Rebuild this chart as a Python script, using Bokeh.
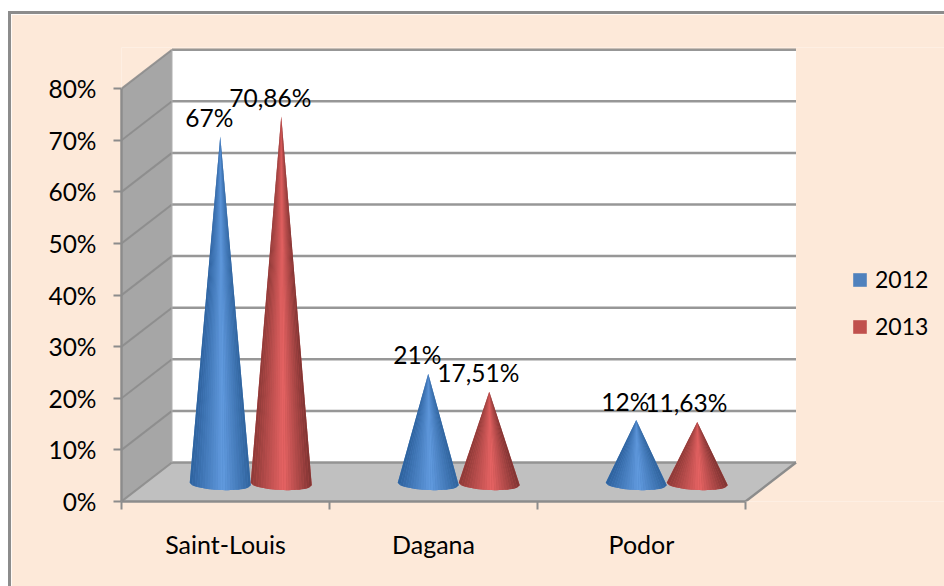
from bokeh.plotting import figure
from bokeh.embed import file_html
from bokeh.resources import INLINE
from bokeh.models import (FixedTicker, Legend, LegendItem, LinearAxis, Range1d)
from bokeh.core.properties import value

categories = ["Saint-Louis", "Dagana", "Podor"]
values_2012 = [67, 21, 12]
values_2013 = [70.86, 17.51, 11.63]
labels_2012 = ["67%", "21%", "12%"]
labels_2013 = ["70,86%", "17,51%", "11,63%"]
y_ticks = [0, 10, 20, 30, 40, 50, 60, 70, 80]
y_tick_labels = ["0%", "10%", "20%", "30%", "40%", "50%", "60%", "70%", "80%"]
series_names = ["2012", "2013"]

FONT = "Lato"
FS = "24.5px"
PEACH = "#fde9d9"
GRAY = "#8c8c8c"
PX_X = 208.0    # px per category
PX_Y = 5.16     # px per percent
DX = 50.5 / PX_X   # depth of the 3D box
DY = 39.0 / PX_Y
HW = 30.5 / PX_X   # cone half width

p = figure(width=933, height=572, output_backend="svg", toolbar_location=None,
           x_range=Range1d(0, 823 / PX_X), y_range=Range1d(0, 454 / PX_Y),
           min_border_left=110, min_border_right=0, min_border_top=33, min_border_bottom=85,
           background_fill_color=PEACH, border_fill_color=PEACH, outline_line_color=None,
           margin=(14, 0, 0, 11))
p.styles = {"outline": "3px solid " + GRAY}
p.xaxis.visible = False
p.yaxis.visible = False
p.grid.visible = False
p.renderers = []
p.below = []
p.left = []

ymax = y_ticks[-1]
xmax = len(categories)
# side wall, back wall, floor
p.patch([0, DX, DX, 0], [0, DY, ymax + DY, ymax], fill_color="#a6a6a6", line_color=None)
p.patch([DX, xmax + DX, xmax + DX, DX], [DY, DY, ymax + DY, ymax + DY], fill_color="white", line_color=None)
p.patch([0, DX, xmax + DX, xmax], [0, DY, DY, 0], fill_color="#c0c0c0", line_color=None)
# gridlines
p.multi_line([[DX, xmax + DX] for _ in y_ticks], [[t + DY, t + DY] for t in y_ticks],
             line_color=GRAY, line_width=2.5, line_alpha=0.9)
p.multi_line([[0, DX] for _ in y_ticks], [[t, t + DY] for t in y_ticks],
             line_color=GRAY, line_width=2, line_alpha=0.9)
p.line([xmax, xmax + DX], [0, DY], line_color=GRAY, line_width=2.5)
p.line([DX, DX], [DY, ymax + DY], line_color="#b0b0b0", line_width=1)

def mix(a, b, f):
    return "#%02x%02x%02x" % tuple(round(a[i] + (b[i] - a[i]) * f) for i in range(3))

def shade(t, edge_l, mid, edge_r):
    # t in -1..1, highlight a little right of the centre
    c = 0.08
    if t < c:
        f = (t + 1) / (c + 1)
        return mix(edge_l, mid, f ** 1.1)
    f = (1 - t) / (1 - c)
    return mix(edge_r, mid, f ** 1.1)

BLUE = ((0x2e, 0x62, 0x9e), (0x62, 0x9b, 0xe0), (0x30, 0x64, 0x9e))
RED = ((0x8e, 0x3a, 0x38), (0xe8, 0x64, 0x64), (0x80, 0x34, 0x32))

def cone(cx, v, pal):
    top = v + DY / 2
    side = 17.5 / PX_Y
    drop = 6.0 / PX_Y
    n = 24
    xs, ys, cs = [], [], []
    for i in range(n):
        t0 = -1 + 2 * i / n
        t1 = -1 + 2 * (i + 1) / n
        b0 = side - drop * (1 - t0 * t0) ** 0.5 + 0.25 * -t0
        b1 = side - drop * (1 - t1 * t1) ** 0.5 + 0.25 * -t1
        xs.append([cx, cx + HW * t0, cx + HW * t1])
        ys.append([top, b0, b1])
        cs.append(shade((t0 + t1) / 2, *pal))
    # solid underlay hides the seams between the shaded slices
    ux = [cx] + [s[1] for s in xs] + [xs[-1][2]]
    uy = [top] + [s[1] for s in ys] + [ys[-1][2]]
    p.patch(ux, uy, fill_color=mix(pal[0], pal[1], 0.6), line_color=None)
    p.patches(xs, ys, fill_color=cs, line_color=None)

text_x, text_y, text_s = [], [], []
for i in range(len(categories)):
    for v, lab, sign, pal in ((values_2012[i], labels_2012[i], -1, BLUE),
                              (values_2013[i], labels_2013[i], 1, RED)):
        cx = i + 0.5 + DX / 2 + sign * HW
        cone(cx, v, pal)
        text_x.append(cx)
        text_y.append(v + DY / 2)
        text_s.append(lab)

p.text(text_x, text_y, text=text_s, x_offset=-11, y_offset=-19, text_align="center",
       text_baseline="middle", text_font=value(FONT), text_font_size=FS, text_color="black")

left = LinearAxis(ticker=FixedTicker(ticks=y_ticks), bounds=(0, ymax))
left.major_label_overrides = {t: s for t, s in zip(y_ticks, y_tick_labels)}
left.major_label_text_font = FONT
left.major_label_text_font_size = FS
left.major_label_text_color = "black"
left.major_label_standoff = 17
left.major_tick_out = 8
left.major_tick_in = 0
left.minor_tick_line_color = None
left.axis_line_color = GRAY
left.axis_line_width = 2.5
left.major_tick_line_color = GRAY
left.major_tick_line_width = 2
p.add_layout(left, "left")

centres = [i + 0.5 for i in range(len(categories))]
bottom = LinearAxis(ticker=FixedTicker(ticks=centres, minor_ticks=list(range(len(categories) + 1))),
                    bounds=(0, xmax))
bottom.major_label_overrides = {c: s for c, s in zip(centres, categories)}
bottom.major_label_text_font = FONT
bottom.major_label_text_font_size = "25px"
bottom.major_label_text_color = "black"
bottom.major_label_standoff = 19
bottom.major_tick_line_color = None
bottom.major_tick_out = 0
bottom.major_tick_in = 0
bottom.minor_tick_out = 8
bottom.minor_tick_in = 0
bottom.minor_tick_line_color = GRAY
bottom.minor_tick_line_width = 2
bottom.axis_line_color = GRAY
bottom.axis_line_width = 2.5
p.add_layout(bottom, "below")

nan = float("nan")
r12 = p.quad(left=[nan], right=[nan], top=[nan], bottom=[nan], fill_color="#4f81bd", line_color=None)
r13 = p.quad(left=[nan], right=[nan], top=[nan], bottom=[nan], fill_color="#c0504d", line_color=None)
legend = Legend(items=[LegendItem(label=series_names[0], renderers=[r12]),
                       LegendItem(label=series_names[1], renderers=[r13])],
                location=(730, 161), orientation="vertical",
                background_fill_alpha=0, border_line_color=None,
                glyph_width=17, glyph_height=17, spacing=19, label_standoff=7,
                label_text_font=FONT, label_text_font_size="23px", label_text_color="black",
                margin=0, padding=0, label_height=28)
p.add_layout(legend, "center")

open("out.html", "w").write(file_html(p, INLINE))
